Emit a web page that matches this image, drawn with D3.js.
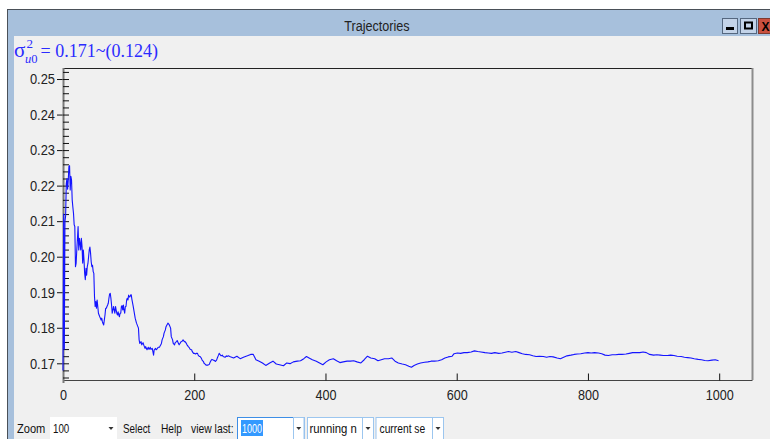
<!DOCTYPE html>
<html><head><meta charset="utf-8">
<script src="https://cdn.jsdelivr.net/npm/d3@7"></script>
<style>body{margin:0;background:#fff;overflow:hidden}svg{display:block}</style>
</head><body>
<svg id="c" width="770" height="439"></svg>
<script>
// ---------------- data ----------------
const windowTitle = "Trajectories";
const paramMean = "0.171";
const paramSd = "0.124";
const iterations = [
0,1,2,3,4,5,6,7,8,9,10,11,12,13,14,15,16,17,18,19,20,21,22,23,24,25,26,27,28,29,
30,31,32,33,34,35,36,37,38,39,40,41,42,43,44,45,46,47,48,49,50,51,52,53,54,55,56,57,58,59,
60,61,62,63,64,65,66,67,68,69,70,71,72,73,74,75,76,77,78,79,80,81,82,83,84,85,86,87,88,89,
90,91,92,93,94,95,96,97,98,99,100,101,102,103,104,105,107,110,112,115,116,117,119,120,122,123,
125,126,128,130,131,133,134,136,137,138,139,141,142,144,145,147,148,150,151,153,154,156,157,159,
160,162,164,165,167,168,170,171,173,174,176,177,179,180,182,183,185,186,188,189,191,192,194,196,
197,199,200,202,203,205,206,208,209,211,212,214,215,217,218,220,221,223,224,226,227,229,231,232,
234,235,237,238,240,241,243,244,247,249,250,252,254,260,265,270,275,281,286,290,294,299,
304,309,315,320,325,330,336,341,346,351,357,362,367,371,375,380,386,391,396,401,406,412,417,422,
427,433,438,443,448,454,459,464,469,475,480,485,490,496,501,506,511,517,522,527,531,535,540,545,
551,556,561,566,572,577,582,587,593,596,601,606,611,616,622,627,632,637,643,648,653,658,664,669,
674,679,684,690,695,700,705,711,716,721,726,732,737,742,747,753,758,763,768,774,779,784,789,795,
800,805,810,816,821,826,831,837,842,847,852,858,863,868,873,879,884,889,894,900,905,910,915,921,
926,931,936,942,947,952,957,962,968,973,978,983,989,994,999];
const values = [
0.1680,0.2120,0.1740,0.2100,0.2115,0.2205,0.2220,0.2190,0.2215,0.2254,0.2256,0.2188,0.2226,0.2216,0.2160,0.2140,0.2122,0.2090,0.2085,0.1972,0.1981,0.2019,0.2050,0.2085,0.2019,0.2052,0.2038,0.2019,0.2052,0.2029,
0.1982,0.2019,0.1991,0.1953,0.1935,0.1967,0.1948,0.1972,0.1981,0.2000,0.2019,0.2027,0.2010,0.1985,0.1972,0.1976,0.1958,0.1953,0.1888,0.1860,0.1874,0.1855,0.1878,0.1860,0.1841,0.1836,0.1831,0.1827,0.1822,0.1827,
0.1817,0.1812,0.1808,0.1822,0.1836,0.1855,0.1855,0.1860,0.1864,0.1869,0.1883,0.1895,0.1897,0.1883,0.1864,0.1841,0.1850,0.1860,0.1850,0.1841,0.1860,0.1850,0.1841,0.1836,0.1845,0.1836,0.1831,0.1841,0.1841,0.1860,
0.1862,0.1850,0.1864,0.1850,0.1841,0.1860,0.1860,0.1878,0.1883,0.1878,0.1892,0.1887,0.1887,0.1892,0.1893,0.1880,0.1860,0.1827,0.1813,0.1799,0.1766,0.1756,0.1761,0.1752,0.1758,0.1752,
0.1742,0.1747,0.1738,0.1745,0.1739,0.1745,0.1739,0.1742,0.1733,0.1723,0.1738,0.1742,0.1738,0.1742,0.1745,0.1745,0.1749,0.1756,0.1766,0.1775,0.1785,0.1794,0.1803,0.1810,
0.1813,0.1808,0.1799,0.1775,0.1766,0.1756,0.1752,0.1758,0.1761,0.1764,0.1756,0.1752,0.1758,0.1761,0.1763,0.1766,0.1761,0.1761,0.1756,0.1752,0.1747,0.1745,0.1739,0.1738,
0.1733,0.1728,0.1728,0.1726,0.1728,0.1728,0.1723,0.1719,0.1719,0.1714,0.1709,0.1705,0.1700,0.1697,0.1695,0.1695,0.1695,0.1697,0.1702,0.1709,0.1711,0.1709,0.1708,0.1705,
0.1709,0.1714,0.1723,0.1728,0.1723,0.1721,0.1723,0.1719,0.1717,0.1721,0.1719,0.1721,0.1719,0.1715,0.1720,0.1713,0.1717,0.1721,0.1725,0.1725,0.1710,0.1706,
0.1701,0.1694,0.1701,0.1706,0.1698,0.1696,0.1693,0.1701,0.1699,0.1704,0.1706,0.1707,0.1713,0.1719,0.1715,0.1710,0.1706,0.1701,0.1696,0.1704,0.1710,0.1713,0.1707,0.1702,
0.1704,0.1706,0.1706,0.1707,0.1704,0.1701,0.1710,0.1720,0.1715,0.1713,0.1707,0.1710,0.1713,0.1713,0.1715,0.1706,0.1701,0.1698,0.1696,0.1692,0.1689,0.1694,0.1698,0.1701,
0.1703,0.1704,0.1706,0.1706,0.1707,0.1710,0.1715,0.1718,0.1720,0.1727,0.1729,0.1728,0.1730,0.1730,0.1732,0.1735,0.1733,0.1732,0.1730,0.1729,0.1728,0.1730,0.1728,0.1729,
0.1731,0.1733,0.1731,0.1733,0.1730,0.1727,0.1725,0.1724,0.1721,0.1719,0.1720,0.1719,0.1717,0.1719,0.1718,0.1715,0.1713,0.1717,0.1721,0.1723,0.1725,0.1726,0.1727,0.1729,
0.1730,0.1729,0.1730,0.1729,0.1727,0.1723,0.1722,0.1724,0.1724,0.1725,0.1725,0.1726,0.1728,0.1730,0.1730,0.1730,0.1732,0.1730,0.1725,0.1723,0.1724,0.1723,0.1722,0.1722,
0.1723,0.1722,0.1720,0.1719,0.1717,0.1716,0.1715,0.1713,0.1711,0.1710,0.1708,0.1707,0.1709,0.1710,0.1707];
const yMajorTicks = [0.17,0.18,0.19,0.20,0.21,0.22,0.23,0.24,0.25];
const yMinorTicks = [0.166,0.168,0.172,0.174,0.176,0.178,0.182,0.184,0.186,0.188,0.192,0.194,0.196,0.198,
  0.202,0.204,0.206,0.208,0.212,0.214,0.216,0.218,0.222,0.224,0.226,0.228,0.232,0.234,0.236,0.238,
  0.242,0.244,0.246,0.248,0.252];
const xTicks = [0,200,400,600,800,1000];
const xDomain = [0,1050];
const yDomain = [0.1653,0.2531];
const toolbarItems = ["Zoom","100","Select","Help","view last:"];
const comboItems = ["1000","running n","current se"];

// ---------------- drawing ----------------
const svg = d3.select("#c");
const UI = "'Liberation Sans', Arial, sans-serif";
function squeeze(sel, f){ sel.each(function(){ const w=this.getComputedTextLength(); this.setAttribute("textLength", w*f); this.setAttribute("lengthAdjust","spacingAndGlyphs"); }); }

svg.append("rect").attr("width",770).attr("height",439).attr("fill","#fff");
// window frame
svg.append("rect").attr("x",7.5).attr("y",9.5).attr("width",800).attr("height",440).attr("fill","#a7c0dc").attr("stroke","#4a5058");
svg.append("rect").attr("x",14).attr("y",36).attr("width",770).attr("height",410).attr("fill","#f0f0f0");
svg.append("text").attr("x",377).attr("y",31).attr("text-anchor","middle").attr("font-family",UI).attr("font-size",14).attr("fill","#222").text(windowTitle).call(squeeze,0.9);
// window buttons
const bt = svg.append("g");
bt.append("rect").attr("x",722.5).attr("y",18.5).attr("width",15).attr("height",15).attr("fill","#c3d3e8").attr("stroke","#55677f");
bt.append("rect").attr("x",726).attr("y",27).attr("width",8).attr("height",3).attr("fill","#000");
bt.append("rect").attr("x",740.5).attr("y",18.5).attr("width",16).attr("height",15).attr("fill","#c3d3e8").attr("stroke","#55677f");
bt.append("rect").attr("x",745).attr("y",22.5).attr("width",7).attr("height",6).attr("fill","none").attr("stroke","#000").attr("stroke-width",2);
bt.append("rect").attr("x",758.5).attr("y",18.5).attr("width",16).attr("height",15).attr("fill","#c9503f").attr("stroke","#7d3a30");
bt.append("text").attr("x",765.5).attr("y",30.5).attr("text-anchor","middle").attr("font-family",UI).attr("font-weight","bold").attr("font-size",12).attr("fill","#000").text("X");

// formula
const BLUE = "#2b2bff";
svg.append("text").attr("x",14).attr("y",57).attr("font-family","'Liberation Serif','Times New Roman',serif").attr("font-size",21).attr("fill",BLUE).text("σ");
svg.append("text").attr("x",26.5).attr("y",48).attr("font-family","'Liberation Serif',serif").attr("font-size",13).attr("fill",BLUE).text("2");
const sub = svg.append("text").attr("x",25).attr("y",63).attr("font-family","'Liberation Serif',serif").attr("font-size",12.5).attr("fill",BLUE);
sub.append("tspan").attr("font-style","italic").text("u");
sub.append("tspan").text("0");
svg.append("text").attr("x",40.5).attr("y",57).attr("font-family","'Liberation Serif',serif").attr("font-size",18).attr("fill",BLUE)
  .text("= " + paramMean + "~(" + paramSd + ")");

// scales
const L=63, R=752, T=68, B=380;
const x = d3.scaleLinear().domain(xDomain).range([L,R]);
const y = d3.scaleLinear().domain(yDomain).range([B,T]);

// frame
svg.append("line").attr("x1",L).attr("x2",R).attr("y1",T+0.5).attr("y2",T+0.5).attr("stroke","#222");
svg.append("line").attr("x1",R+0.5).attr("x2",R+0.5).attr("y1",T).attr("y2",B).attr("stroke","#8c8c8c").attr("stroke-width",2);

// x axis
const gx = svg.append("g").attr("transform",`translate(0,${B})`)
  .call(d3.axisBottom(x).tickValues(xTicks).tickFormat(d3.format("d")).tickSize(0).tickPadding(10));
gx.select(".domain").attr("stroke","#444");
gx.selectAll("text").attr("font-family",UI).attr("font-size",14).attr("fill","#222").call(squeeze,0.9);
const gx2 = svg.append("g").attr("transform",`translate(0,${B+0.5})`)
  .call(d3.axisTop(x).tickValues(xTicks.slice(1)).tickSize(7).tickFormat(""));
gx2.select(".domain").remove();
gx2.selectAll("line").attr("stroke","#111");

// y axis
const gy = svg.append("g").attr("transform",`translate(${L},0)`)
  .call(d3.axisLeft(y).tickValues(yMajorTicks).tickFormat(d3.format(".2f")).tickSize(6).tickPadding(2));
gy.select(".domain").remove();
gy.selectAll("line").attr("stroke","#111");
gy.selectAll("text").attr("font-family",UI).attr("font-size",15).attr("fill","#222").call(squeeze,0.86);
svg.append("line").attr("x1",L+0.5).attr("x2",L+0.5).attr("y1",T).attr("y2",B+3).attr("stroke","#7a7a7a").attr("stroke-width",2);
const gyIn = svg.append("g").attr("transform",`translate(${L},0)`)
  .call(d3.axisRight(y).tickValues(yMajorTicks.concat(yMinorTicks)).tickSize(6).tickFormat(""));
gyIn.select(".domain").remove();
gyIn.selectAll("line").attr("stroke","#111");

// trajectory
const pts = iterations.map((it,i)=>[it,values[i]]);
svg.append("path").datum(pts).attr("fill","none").attr("stroke","#1414ff").attr("stroke-width",1.1)
  .attr("stroke-linejoin","round")
  .attr("d", d3.line().x(d=>x(d[0])).y(d=>y(d[1])));

// toolbar
const tb = svg.append("g").attr("font-family",UI).attr("font-size",13).attr("fill","#111");
tb.append("rect").attr("x",50).attr("y",417).attr("width",67).attr("height",22).attr("fill","#fff");
tb.append("path").attr("d","M108.5,427 L113.5,427 L111,430 Z").attr("fill","#333");
const tbX = [17,53,123,161,191];
const tbW = [28.3,16.3,27.3,21,42.6];
toolbarItems.forEach((t,i)=>{
  tb.append("text").attr("x",tbX[i]).attr("y",432.5).attr("textLength",tbW[i]).attr("lengthAdjust","spacingAndGlyphs").text(t);
});
const boxes = [[237.5,66.5,293.5],[307.5,66,362.5],[376,67.5,432.5]];
boxes.forEach((b,i)=>{
  tb.append("rect").attr("x",b[0]).attr("y",417.5).attr("width",b[1]).attr("height",22).attr("fill","#fff").attr("stroke", i===0?"#3d8ee6":"#9cc6ef");
  tb.append("rect").attr("x",b[2]).attr("y",417.5).attr("width",b[0]+b[1]-b[2]).attr("height",22).attr("fill","#fff").attr("stroke","#9cc6ef");
  const cx = (b[2]+b[0]+b[1])/2;
  tb.append("path").attr("d",`M${cx-2.5},427 L${cx+2.5},427 L${cx},430 Z`).attr("fill","#333");
});
tb.append("rect").attr("x",241).attr("y",420).attr("width",22).attr("height",16).attr("fill","#3399ff");
const cbX=[242,309.5,379.5], cbW=[20,47.3,45.7];
comboItems.forEach((t,i)=>{
  tb.append("text").attr("x",cbX[i]).attr("y",432.5).attr("textLength",cbW[i]).attr("lengthAdjust","spacingAndGlyphs")
    .attr("fill", i===0?"#fff":"#111").text(t);
});
</script>
</body></html>
